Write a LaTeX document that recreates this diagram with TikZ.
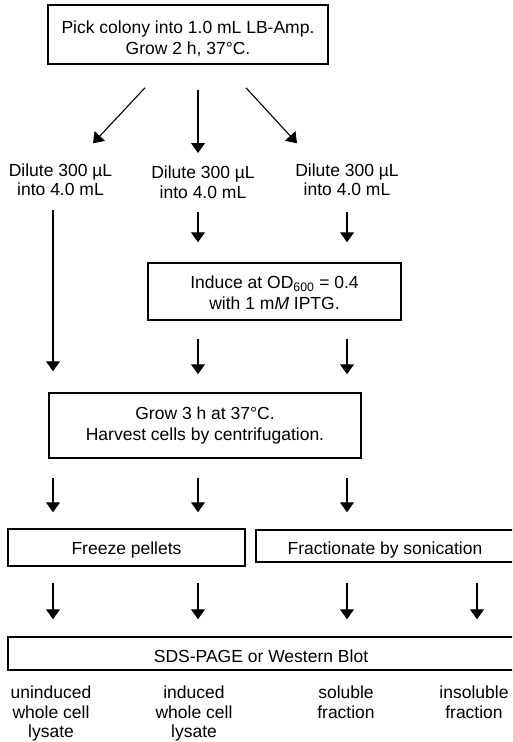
\documentclass[tikz,border=0pt]{standalone}
\usepackage{fontspec}
\setmainfont{Liberation Sans}
\usetikzlibrary{arrows.meta}
\newcommand{\liftby}[1]{\rule{0pt}{#1}}

\begin{document}
\begin{tikzpicture}[x=1pt,y=-1pt,
  box/.style={draw,line width=1.5pt,inner sep=0pt,align=center,font=\fontsize{17.5}{20.5}\selectfont},
  txt/.style={inner sep=0pt,align=center,anchor=north,font=\fontsize{17.5}{19.8}\selectfont},
  arr/.style={-{Triangle[length=10pt,width=14pt]},line width=1.1pt}]
\clip (0,0) rectangle (512,742);

% Arrow columns
\coordinate (cA) at (53,0);
\coordinate (cB) at (198,0);
\coordinate (cC) at (347,0);
\coordinate (cD) at (477,0);

% Steps
\node[box,minimum width=280pt,minimum height=59pt] (pick) at (188,34.5)
  {\liftby{21.5pt}Pick colony into 1.0 mL LB-Amp.\\Grow 2 h, 37°C.};
\node[txt] (dil1) at (60.5,163.3) {Dilute 300 µL\\into 4.0 mL};
\node[txt] (dil2) at (203,165.7) {Dilute 300 µL\\into 4.0 mL};
\node[txt] (dil3) at (347,163.3) {Dilute 300 µL\\into 4.0 mL};
\node[box,minimum width=253pt,minimum height=57pt] (induce) at (274.5,291.5)
  {\liftby{15.5pt}Induce at OD\textsubscript{600} = 0.4\\with 1 m\textit{M} IPTG.};
\node[box,minimum width=312pt,minimum height=65pt] (grow) at (205,425.5)
  {Grow 3 h at 37°C.\\Harvest cells by centrifugation.};
\node[box,minimum width=237pt,minimum height=37pt] (freeze) at (126.5,547.5) {\liftby{17.5pt}Freeze pellets};
\node[box,minimum width=258pt,minimum height=32pt] (frac) at (385,546) {\liftby{20pt}Fractionate by sonication};
\node[box,minimum width=506pt,minimum height=33pt] (sds) at (261,653.5) {\liftby{17.7pt}SDS-PAGE or Western Blot};

% Samples
\node[txt] (lab1) at (51,685.5) {uninduced\\whole cell\\lysate};
\node[txt] (lab2) at (194,685.5) {induced\\whole cell\\lysate};
\node[txt] (lab3) at (346,686) {soluble\\fraction};
\node[txt] (lab4) at (474,686) {insoluble\\fraction};

% Arrows
\draw[arr] ([xshift=-43pt,yshift=-23pt]pick.south) -- ([xshift=32.5pt,yshift=20pt]dil1.north);
\draw[arr,shorten <=25pt,shorten >=12.7pt] (pick.south -| cB) -- (dil2.north -| cB);
\draw[arr] ([xshift=58pt,yshift=-23pt]pick.south) -- ([xshift=-50pt,yshift=20pt]dil3.north);

\draw[arr,shorten <=13.7pt,shorten >=21pt] (dil1.south -| cA) -- (grow.north -| cA);
\draw[arr,shorten <=13.3pt,shorten >=20pt] (dil2.south -| cB) -- (induce.north -| cB);
\draw[arr,shorten <=15.7pt,shorten >=20pt] (dil3.south -| cC) -- (induce.north -| cC);

\draw[arr,shorten <=18pt,shorten >=18pt] (induce.south -| cB) -- (grow.north -| cB);
\draw[arr,shorten <=18pt,shorten >=18pt] (induce.south -| cC) -- (grow.north -| cC);

\draw[arr,shorten <=19pt,shorten >=16pt] (grow.south -| cA) -- (freeze.north -| cA);
\draw[arr,shorten <=19pt,shorten >=16pt] (grow.south -| cB) -- (freeze.north -| cB);
\draw[arr,shorten <=19pt,shorten >=17pt] (grow.south -| cC) -- (frac.north -| cC);

\draw[arr,shorten <=16pt,shorten >=17pt] (freeze.south -| cA) -- (sds.north -| cA);
\draw[arr,shorten <=16pt,shorten >=17pt] (freeze.south -| cB) -- (sds.north -| cB);
\draw[arr,shorten <=20pt,shorten >=17pt] (frac.south -| cC) -- (sds.north -| cC);
\draw[arr,shorten <=20pt,shorten >=17pt] (frac.south -| cD) -- (sds.north -| cD);
\end{tikzpicture}
\end{document}
